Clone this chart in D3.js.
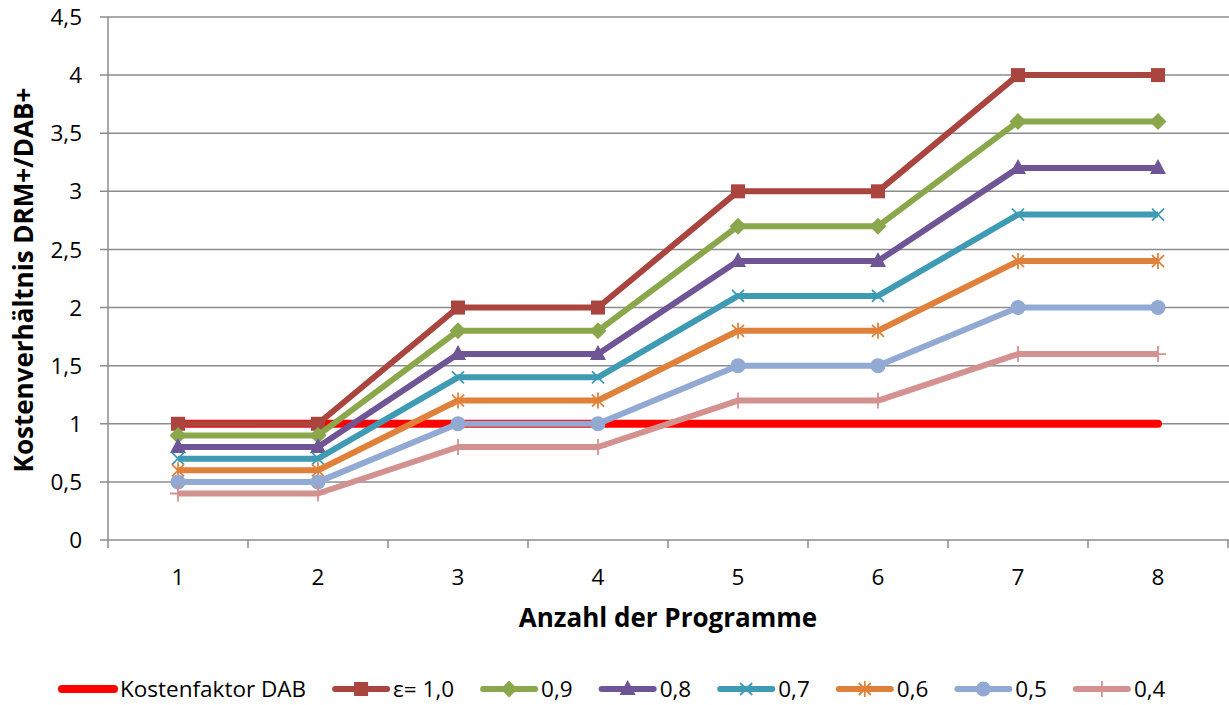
<!DOCTYPE html>
<html>
<head>
<meta charset="utf-8">
<script src="https://cdn.jsdelivr.net/npm/d3@7"></script>
<style>
  body { margin: 0; background: #fff; }
  svg text { font-family: "Open Sans", "Noto Sans", sans-serif; fill: #000; }
</style>
</head>
<body>
<svg id="chart" width="1229" height="705"></svg>
<script>
//
// Data
//

const programmes = [1, 2, 3, 4, 5, 6, 7, 8];
const yTicks = [0, 0.5, 1, 1.5, 2, 2.5, 3, 3.5, 4, 4.5];

const dabFactor = [1, 1, 1, 1, 1, 1, 1, 1];
const eps10 = [1, 1, 2, 2, 3, 3, 4, 4];
const eps09 = [0.9, 0.9, 1.8, 1.8, 2.7, 2.7, 3.6, 3.6];
const eps08 = [0.8, 0.8, 1.6, 1.6, 2.4, 2.4, 3.2, 3.2];
const eps07 = [0.7, 0.7, 1.4, 1.4, 2.1, 2.1, 2.8, 2.8];
const eps06 = [0.6, 0.6, 1.2, 1.2, 1.8, 1.8, 2.4, 2.4];
const eps05 = [0.5, 0.5, 1, 1, 1.5, 1.5, 2, 2];
const eps04 = [0.4, 0.4, 0.8, 0.8, 1.2, 1.2, 1.6, 1.6];

const series = [
  { name: "Kostenfaktor DAB", values: dabFactor, color: "#ff0000", marker: null },
  { name: "ε= 1,0", values: eps10, color: "#a9443f", marker: "square" },
  { name: "0,9", values: eps09, color: "#8ba74c", marker: "diamond" },
  { name: "0,8", values: eps08, color: "#6f5596", marker: "triangle" },
  { name: "0,7", values: eps07, color: "#3f9bb4", marker: "x" },
  { name: "0,6", values: eps06, color: "#e0813b", marker: "star" },
  { name: "0,5", values: eps05, color: "#91a9d3", marker: "circle" },
  { name: "0,4", values: eps04, color: "#d39190", marker: "plus" },
];

//
// Scales
//

const svg = d3.select("#chart");
const plotLeft = 108, plotRight = 1228, plotTop = 17, plotBottom = 540;
const grid = "#8c8c8c";
const fmt = (v) => String(v).replace(".", ",");

const x = d3.scaleBand().domain(programmes).range([plotLeft, plotRight]);
const xc = (d) => x(d) + x.bandwidth() / 2;
const y = d3.scaleLinear().domain([0, 4.5]).range([plotBottom, plotTop]);

//
// Grid and axes
//

svg.append("g")
  .selectAll("line")
  .data(yTicks)
  .enter()
  .append("line")
  .attr("x1", plotLeft - 8)
  .attr("x2", 1229)
  .attr("y1", (d) => y(d))
  .attr("y2", (d) => y(d))
  .attr("stroke", grid)
  .attr("stroke-width", 1.5);

svg.append("line")
  .attr("x1", plotLeft).attr("x2", plotLeft)
  .attr("y1", plotTop).attr("y2", plotBottom + 8)
  .attr("stroke", grid).attr("stroke-width", 1.5);

svg.append("g")
  .selectAll("line")
  .data(programmes)
  .enter()
  .append("line")
  .attr("x1", (d) => x(d) + x.bandwidth())
  .attr("x2", (d) => x(d) + x.bandwidth())
  .attr("y1", plotBottom)
  .attr("y2", plotBottom + 8)
  .attr("stroke", grid)
  .attr("stroke-width", 1.5);

svg.append("g")
  .selectAll("text")
  .data(yTicks)
  .enter()
  .append("text")
  .attr("x", plotLeft - 26)
  .attr("y", (d) => y(d))
  .attr("dy", "0.36em")
  .attr("text-anchor", "end")
  .style("font-size", "22.5px")
  .text(fmt);

svg.append("g")
  .selectAll("text")
  .data(programmes)
  .enter()
  .append("text")
  .attr("x", xc)
  .attr("y", 577)
  .attr("dy", "0.36em")
  .attr("text-anchor", "middle")
  .style("font-size", "22.5px")
  .text((d) => d);

svg.append("text")
  .attr("x", 668)
  .attr("y", 618)
  .attr("dy", "0.36em")
  .attr("text-anchor", "middle")
  .style("font-size", "26px")
  .style("font-weight", "bold")
  .text("Anzahl der Programme");

svg.append("text")
  .attr("transform", "translate(24,280) rotate(-90)")
  .attr("dy", "0.36em")
  .attr("text-anchor", "middle")
  .style("font-size", "26px")
  .style("font-weight", "bold")
  .text("Kostenverhältnis DRM+/DAB+");

//
// Markers
//

function mkmarker(g, kind, color, cx, cy) {
  const s = 7;
  if (kind === "square") {
    g.append("rect").attr("x", cx - s).attr("y", cy - s)
      .attr("width", 2 * s).attr("height", 2 * s).attr("fill", color);
  } else if (kind === "diamond") {
    g.append("path").attr("d", `M${cx},${cy - 8.5}L${cx + 8.5},${cy}L${cx},${cy + 8.5}L${cx - 8.5},${cy}Z`)
      .attr("fill", color);
  } else if (kind === "triangle") {
    g.append("path").attr("d", `M${cx},${cy - 9}L${cx + 8},${cy + 6}L${cx - 8},${cy + 6}Z`)
      .attr("fill", color);
  } else if (kind === "circle") {
    g.append("circle").attr("cx", cx).attr("cy", cy).attr("r", 7.5).attr("fill", color);
  } else if (kind === "x") {
    g.append("path").attr("d", `M${cx - 6},${cy - 6}L${cx + 6},${cy + 6}M${cx - 6},${cy + 6}L${cx + 6},${cy - 6}`)
      .attr("stroke", color).attr("stroke-width", 1.8);
  } else if (kind === "star") {
    g.append("path").attr("d", `M${cx - 6},${cy - 6}L${cx + 6},${cy + 6}M${cx - 6},${cy + 6}L${cx + 6},${cy - 6}M${cx},${cy - 8}L${cx},${cy + 8}`)
      .attr("stroke", color).attr("stroke-width", 1.8);
  } else if (kind === "plus") {
    g.append("path").attr("d", `M${cx - 8},${cy}L${cx + 8},${cy}M${cx},${cy - 8}L${cx},${cy + 8}`)
      .attr("stroke", color).attr("stroke-width", 1.8);
  }
}

//
// Lines
//

const line = d3.line()
  .x((d, i) => xc(programmes[i]))
  .y((d) => y(d));

series.forEach((s) => {
  const g = svg.append("g");
  g.append("path")
    .attr("d", line(s.values))
    .attr("fill", "none")
    .attr("stroke", s.color)
    .attr("stroke-width", s.marker ? 6 : 8)
    .attr("stroke-linecap", s.marker ? "butt" : "round")
    .attr("stroke-linejoin", "round");
  if (s.marker) {
    s.values.forEach((v, i) => mkmarker(g, s.marker, s.color, xc(programmes[i]), y(v)));
  }
});

//
// Legend
//

let lx = 59;
const ly = 689;
series.forEach((s) => {
  const g = svg.append("g");
  g.append("line")
    .attr("x1", lx + 3).attr("x2", lx + 55)
    .attr("y1", ly).attr("y2", ly)
    .attr("stroke", s.color)
    .attr("stroke-width", s.marker ? 6 : 8)
    .attr("stroke-linecap", "round");
  if (s.marker) mkmarker(g, s.marker, s.color, lx + 29, ly);
  const t = g.append("text")
    .attr("x", lx + 61)
    .attr("y", ly)
    .attr("dy", "0.36em")
    .style("font-size", "22.5px")
    .text(s.name);
  lx += 61 + t.node().getComputedTextLength() + 26;
});
</script>
</body>
</html>
